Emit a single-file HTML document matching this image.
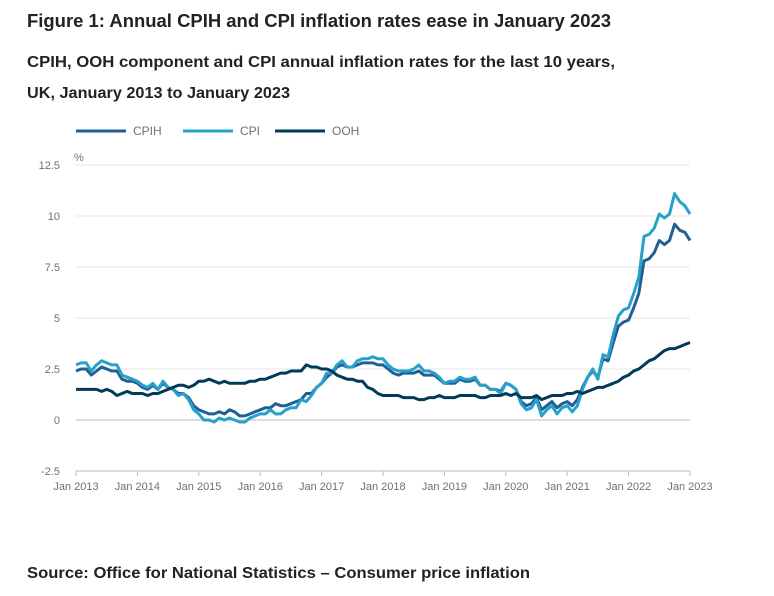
<!DOCTYPE html>
<html><head><meta charset="utf-8"><style>
body{margin:0;background:#fff;font-family:"Liberation Sans",sans-serif;color:#222;}
svg text{font-family:"Liberation Sans",sans-serif;}
</style></head><body>
<svg width="774" height="591">
<text x="27" y="27" font-size="18" font-weight="bold" fill="#222" textLength="584" lengthAdjust="spacingAndGlyphs">Figure 1: Annual CPIH and CPI inflation rates ease in January 2023</text>
<text x="27" y="67" font-size="16" font-weight="bold" fill="#222" textLength="588" lengthAdjust="spacingAndGlyphs">CPIH, OOH component and CPI annual inflation rates for the last 10 years,</text>
<text x="27" y="98" font-size="16" font-weight="bold" fill="#222" textLength="263" lengthAdjust="spacingAndGlyphs">UK, January 2013 to January 2023</text>
<g id="legend"></g>
<g id="grid"></g><g id="axes"></g><g id="lines"></g>
<text x="27" y="578" font-size="16" font-weight="bold" fill="#222" textLength="503" lengthAdjust="spacingAndGlyphs">Source: Office for National Statistics – Consumer price inflation</text>
</svg>
<script>
const seriesNames=["CPIH","CPI","OOH"];
const yTicks=[-2.5,0,2.5,5,7.5,10,12.5];
const xTickLabels=["Jan 2013","Jan 2014","Jan 2015","Jan 2016","Jan 2017","Jan 2018","Jan 2019","Jan 2020","Jan 2021","Jan 2022","Jan 2023"];
const cpih=[2.4,2.5,2.5,2.2,2.4,2.6,2.5,2.4,2.4,2.0,1.9,1.9,
1.8,1.6,1.5,1.7,1.5,1.8,1.6,1.5,1.3,1.3,1.1,0.7,
0.5,0.4,0.3,0.3,0.4,0.3,0.5,0.4,0.2,0.2,0.3,0.4,
0.5,0.6,0.6,0.8,0.7,0.7,0.8,0.9,1.0,1.3,1.3,1.6,
1.8,2.1,2.3,2.6,2.7,2.6,2.6,2.7,2.8,2.8,2.8,2.7,
2.7,2.5,2.3,2.2,2.3,2.3,2.3,2.4,2.2,2.2,2.2,2.0,
1.8,1.8,1.8,2.0,1.9,1.9,2.0,1.7,1.7,1.5,1.5,1.4,
1.8,1.7,1.5,0.9,0.7,0.8,1.1,0.5,0.7,0.9,0.6,0.8,
0.9,0.7,1.0,1.6,2.1,2.4,2.1,3.0,2.9,3.8,4.6,4.8,
4.9,5.5,6.2,7.8,7.9,8.2,8.8,8.6,8.8,9.6,9.3,9.2,8.8];
const cpi=[2.7,2.8,2.8,2.4,2.7,2.9,2.8,2.7,2.7,2.2,2.1,2.0,
1.9,1.7,1.6,1.8,1.5,1.9,1.6,1.5,1.2,1.3,1.0,0.5,
0.3,0.0,0.0,-0.1,0.1,0.0,0.1,0.0,-0.1,-0.1,0.1,0.2,
0.3,0.3,0.5,0.3,0.3,0.5,0.6,0.6,1.0,0.9,1.2,1.6,
1.8,2.3,2.3,2.7,2.9,2.6,2.6,2.9,3.0,3.0,3.1,3.0,
3.0,2.7,2.5,2.4,2.4,2.4,2.5,2.7,2.4,2.4,2.3,2.1,
1.8,1.9,1.9,2.1,2.0,2.0,2.1,1.7,1.7,1.5,1.5,1.3,
1.8,1.7,1.5,0.8,0.5,0.6,1.0,0.2,0.5,0.7,0.3,0.6,
0.7,0.4,0.7,1.5,2.1,2.5,2.0,3.2,3.1,4.2,5.1,5.4,
5.5,6.2,7.0,9.0,9.1,9.4,10.1,9.9,10.1,11.1,10.7,10.5,10.1];
const ooh=[1.5,1.5,1.5,1.5,1.5,1.4,1.5,1.4,1.2,1.3,1.4,1.3,
1.3,1.3,1.2,1.3,1.3,1.4,1.5,1.6,1.7,1.7,1.6,1.7,
1.9,1.9,2.0,1.9,1.8,1.9,1.8,1.8,1.8,1.8,1.9,1.9,
2.0,2.0,2.1,2.2,2.3,2.3,2.4,2.4,2.4,2.7,2.6,2.6,
2.5,2.5,2.4,2.2,2.1,2.0,2.0,1.9,1.9,1.6,1.5,1.3,
1.2,1.2,1.2,1.2,1.1,1.1,1.1,1.0,1.0,1.1,1.1,1.2,
1.1,1.1,1.1,1.2,1.2,1.2,1.2,1.1,1.1,1.2,1.2,1.2,
1.3,1.2,1.3,1.1,1.1,1.1,1.2,1.0,1.1,1.2,1.2,1.2,
1.3,1.3,1.4,1.3,1.4,1.5,1.6,1.6,1.7,1.8,1.9,2.1,
2.2,2.4,2.5,2.7,2.9,3.0,3.2,3.4,3.5,3.5,3.6,3.7,3.8];
const colors=["#206095","#27a0cc","#003c57"];
const NS="http://www.w3.org/2000/svg";
const X0=76,X1=690,Y0=420,PPU=20.4;
const xs=i=>X0+(X1-X0)*i/120;
const ys=v=>Y0-v*PPU;
function mk(t,a,p){const e=document.createElementNS(NS,t);for(const k in a)e.setAttribute(k,a[k]);p.appendChild(e);return e;}
const grid=document.getElementById('grid'),axes=document.getElementById('axes'),lines=document.getElementById('lines'),leg=document.getElementById('legend');
yTicks.forEach(v=>{
 const l=mk('line',{x1:X0,x2:X1,y1:ys(v),y2:ys(v),stroke:v===0?'#bbb':'#e4e4e4','stroke-width':1},grid);
 
 
 const t=mk('text',{x:60,y:ys(v)+4,'font-size':11,fill:'#707070','text-anchor':'end'},axes);
 t.textContent=String(v);
 
 
});
const pct=mk('text',{x:74,y:161,'font-size':11,fill:'#707070'},axes);pct.textContent='%';


const ax=mk('line',{x1:X0,x2:X1,y1:ys(-2.5),y2:ys(-2.5),stroke:'#bbb'},axes);


xTickLabels.forEach((s,k)=>{
 const x=xs(k*12);
 const tk=mk('line',{x1:x,x2:x,y1:ys(-2.5),y2:ys(-2.5)+5,stroke:'#bbb'},axes);
 
 
 const t=mk('text',{x:x,y:ys(-2.5)+19,'font-size':11,fill:'#707070','text-anchor':'middle'},axes);
 t.textContent=s;
 
 
});
[cpih,cpi,ooh].forEach((d,si)=>{
 const p=mk('path',{d:d.map((v,i)=>(i?'L':'M')+xs(i).toFixed(1)+','+ys(v).toFixed(1)).join(''),fill:'none',stroke:colors[si],'stroke-width':3,'stroke-linejoin':'round'},lines);
 
 
});
const legX=[76,183,275];
seriesNames.forEach((n,i)=>{
 const l=mk('line',{x1:legX[i],x2:legX[i]+50,y1:131,y2:131,stroke:colors[i],'stroke-width':3},leg);
 
 
 const t=mk('text',{x:legX[i]+57,y:135,'font-size':12,fill:'#707070'},leg);
 t.textContent=n;
 
 
});
</script>
</body></html>
